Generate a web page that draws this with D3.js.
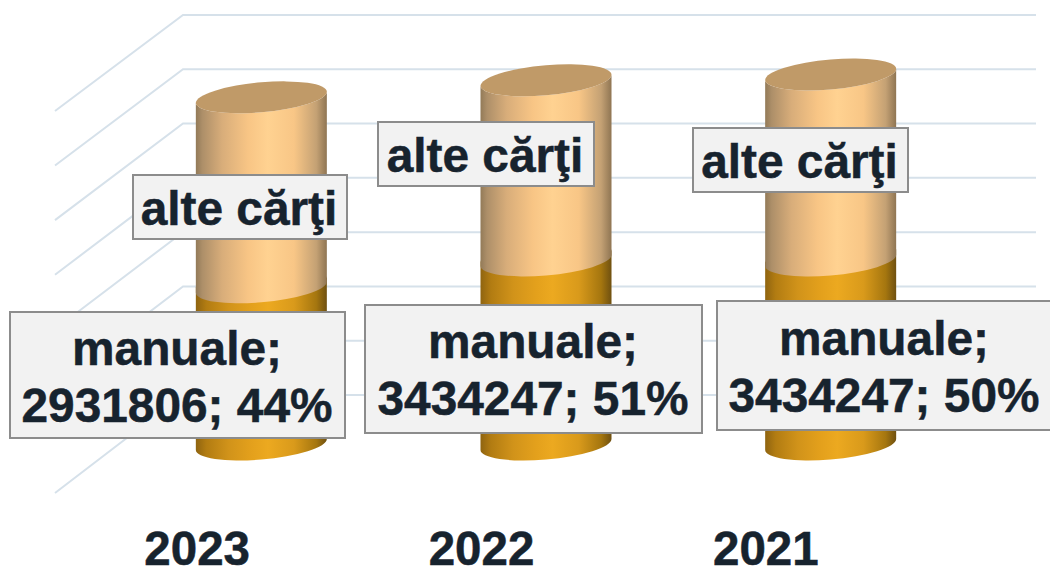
<!DOCTYPE html>
<html><head><meta charset="utf-8">
<script src="https://cdn.jsdelivr.net/npm/d3@7"></script>
<style>html,body{margin:0;padding:0;background:#fff;overflow:hidden}svg{display:block}text{font-family:"Liberation Sans",Arial,sans-serif;font-weight:700;fill:#17232e;stroke:#17232e;stroke-width:.5px}</style>
</head><body><svg id="c" width="1050" height="568"></svg>
<script>
const years = ["2023","2022","2021"];
const manuale = [2931806,3434247,3434247];
const alteCarti = [3545000,3360000,3470000];
const percents = [44,51,50];
const gridTicks = [0,1000000,2000000,3000000,4000000,5000000,6000000,7000000];

const svg = d3.select("#c");
const yBack = d3.scaleLinear().domain([0,7000000]).range([395,15]);
const yFront = d3.scaleLinear().domain([0,7000000]).range([493,111]);
const xBack = d3.scaleBand().domain(years).range([119,973]);
const xFront = d3.scaleBand().domain(years).range([55,908]);
const hScale = d3.scaleLinear().domain([0,7000000]).range([0,375.2]);
const gridColor="#d6e1ea";
const rx=65.5, ry=15, baseY=444.5, skew=-4.8;

const g=svg.append("g");
gridTicks.forEach(t=>{
  g.append("path").attr("fill","none").attr("stroke",gridColor).attr("stroke-width",2)
   .attr("d",d3.line()([[55,yFront(t)],[183,yBack(t)],[1036,yBack(t)]]));
});

const defs=svg.append("defs");
function grad(id,stops){
  const lg=defs.append("linearGradient").attr("id",id).attr("x1","0").attr("x2","1").attr("y1","0").attr("y2","0");
  stops.forEach(([o,c])=>lg.append("stop").attr("offset",o).attr("stop-color",c));
}
grad("light",[[0,"#927a58"],[0.05,"#ad8f69"],[0.2,"#d8ad7a"],[0.4,"#f8c585"],[0.55,"#ffd291"],[0.75,"#f8c686"],[0.92,"#c4a174"],[1,"#8f7553"]]);
grad("gold",[[0,"#8f6410"],[0.08,"#b27c12"],[0.25,"#d1931a"],[0.42,"#e3a01c"],[0.55,"#eca920"],[0.75,"#d99a1b"],[0.92,"#a5760f"],[1,"#6f5010"]]);

function body(h1,h2){
  return `M${-rx},${-h2}L${-rx},${-h1}A${rx},${ry} 0 0 0 ${rx},${-h1}L${rx},${-h2}A${rx},${ry} 0 0 1 ${-rx},${-h2}Z`;
}
years.forEach((y,i)=>{
  const cx=xBack(y)+xBack.bandwidth()/2;
  const gc=svg.append("g").attr("transform",`translate(${cx},${baseY}) skewY(${skew})`);
  const h1=hScale(manuale[i]), h2=h1+hScale(alteCarti[i]);
  gc.append("path").attr("d",body(0,h1+6)).attr("fill","url(#gold)");
  gc.append("path").attr("d",body(h1,h2)).attr("fill","url(#light)");
  gc.append("ellipse").attr("cx",0).attr("cy",-h2).attr("rx",rx).attr("ry",ry).attr("fill","#c09a68");
});

const axis=svg.append("g").attr("transform","translate(0,565)")
  .call(d3.axisBottom(xFront).tickSize(0).tickPadding(0));
axis.select(".domain").remove();
axis.selectAll("text").attr("dy",0).attr("y",0).attr("style","font-size:47.5px;font-family:'Liberation Sans';font-weight:700;fill:#17232e");

const alteBoxes=[[133,175,214,64],[378,122,216,64],[693,128,215,64]];
const manBoxes=[[10,312,335,126],[365,305,337,128],[717,301,340,129]];
const manCenters=[177,533,884];
const manBase=[[365,421.5],[358,414.5],[355,412]];
function box(b){
  svg.append("rect").attr("x",b[0]).attr("y",b[1]).attr("width",b[2]).attr("height",b[3])
    .attr("fill","#f2f2f2").attr("stroke","#8c8c8c").attr("stroke-width",2);
}
const fs=47.8;
years.forEach((y,i)=>{
  const a=alteBoxes[i];
  box(a);
  svg.append("text").attr("x",a[0]+a[2]/2-1).attr("y",a[1]+50).attr("text-anchor","middle").attr("font-size",fs).text("alte c\u0103r\u0163i");
  box(manBoxes[i]);
  svg.append("text").attr("x",manCenters[i]).attr("y",manBase[i][0]).attr("text-anchor","middle").attr("font-size",fs).text("manuale;");
  svg.append("text").attr("x",manCenters[i]).attr("y",manBase[i][1]).attr("text-anchor","middle").attr("font-size",fs).text(`${manuale[i]}; ${percents[i]}%`);
});
</script></body></html>
